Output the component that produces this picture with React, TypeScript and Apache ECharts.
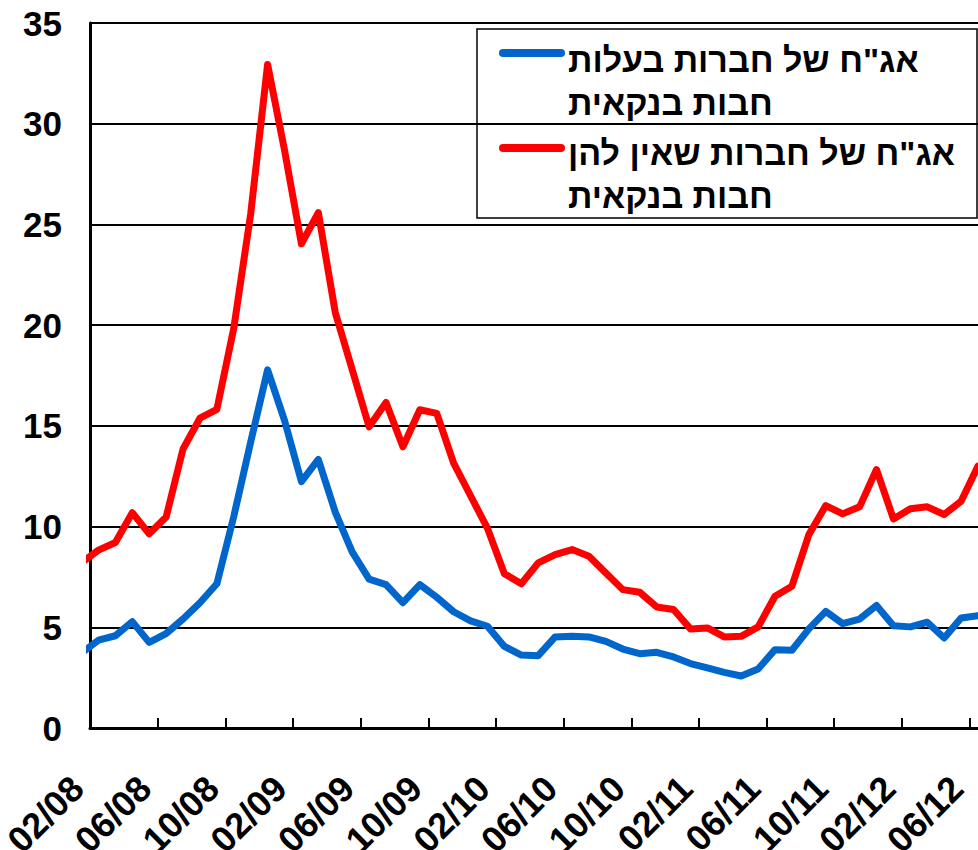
import React, { useEffect, useRef } from "react";
import * as echarts from "echarts";

// Month ticks (every 4 months, starting 02/08)
const tickLabels = ["02/08", "06/08", "10/08", "02/09", "06/09", "10/09", "02/10", "06/10", "10/10", "02/11", "06/11", "10/11", "02/12", "06/12"];

// Monthly points, 01/08 .. 06/12 (each drawn at mid-month)
const pointMonths = [
  "01/08", "02/08", "03/08", "04/08", "05/08", "06/08", "07/08", "08/08", "09/08", "10/08", "11/08", "12/08",
  "01/09", "02/09", "03/09", "04/09", "05/09", "06/09", "07/09", "08/09", "09/09", "10/09", "11/09", "12/09",
  "01/10", "02/10", "03/10", "04/10", "05/10", "06/10", "07/10", "08/10", "09/10", "10/10", "11/10", "12/10",
  "01/11", "02/11", "03/11", "04/11", "05/11", "06/11", "07/11", "08/11", "09/11", "10/11", "11/11", "12/11",
  "01/12", "02/12", "03/12", "04/12", "05/12", "06/12",
];

const bankDebt = [
  3.72, 4.36, 4.58, 5.28, 4.25, 4.69, 5.41, 6.22, 7.16, 10.5, 14.2, 17.78,
  15.27, 12.23, 13.33, 10.72, 8.74, 7.39, 7.12, 6.22, 7.12, 6.49, 5.77, 5.32,
  5.05, 4.05, 3.62, 3.59, 4.52, 4.55, 4.52, 4.3, 3.92, 3.69, 3.76, 3.53,
  3.2, 2.98, 2.76, 2.58, 2.93, 3.89, 3.86, 4.92, 5.79, 5.18, 5.41, 6.08,
  5.08, 5.02, 5.25, 4.47, 5.46, 5.58,
];

const nonBankDebt = [
  8.2, 8.83, 9.21, 10.69, 9.64, 10.47, 13.85, 15.38, 15.82, 19.85, 25.52, 32.94,
  28.69, 24.04, 25.59, 20.63, 17.8, 14.95, 16.16, 13.96, 15.8, 15.62, 13.15, 11.53,
  9.91, 7.66, 7.16, 8.2, 8.61, 8.86, 8.53, 7.7, 6.87, 6.74, 6.01, 5.88,
  4.92, 4.97, 4.52, 4.55, 5.02, 6.54, 7.04, 9.6, 11.04, 10.63, 10.98, 12.83,
  10.38, 10.88, 10.98, 10.6, 11.26, 13.0,
];

const seriesNames = ['אג"ח של חברות בעלות\nחבות בנקאית', 'אג"ח של חברות שאין להן\nחבות בנקאית'];
const seriesColors = ["#0066CC", "#FF0000"];

const FONT = '"Liberation Sans", Arial, sans-serif';

export default function App() {
  const ref = useRef<HTMLDivElement>(null);
  useEffect(() => {
    if (!ref.current) return;
    const chart = echarts.init(ref.current, null, { renderer: "svg" });
    const toXY = (vals: number[]) => vals.map((v, i) => [i - 0.5, v]);
    const tickValues = tickLabels.map((_, k) => k * 4);
    chart.setOption({
      animation: false,
      backgroundColor: "#fff",
      grid: { left: 90, right: 0, top: 23, bottom: 122, containLabel: false, outerBoundsMode: "none" },
      xAxis: {
        type: "value",
        min: 0,
        max: 52.5,
        axisLine: { show: true, lineStyle: { color: "#000", width: 3 } },
        axisTick: { show: true, inside: true, length: 10, lineStyle: { color: "#000", width: 2 }, customValues: tickValues },
        axisLabel: {
          customValues: tickValues,
          rotate: 45,
          margin: 67,
          align: "right",
          verticalAlign: "bottom",
          color: "#000",
          fontFamily: FONT,
          fontWeight: "bold",
          fontSize: 36,
          formatter: (v: number) => tickLabels[Math.round(v / 4)] ?? "",
        },
        splitLine: { show: false },
      },
      yAxis: {
        type: "value",
        min: 0,
        max: 35,
        interval: 5,
        axisLine: { show: true, lineStyle: { color: "#000", width: 3 } },
        axisTick: { show: false },
        axisLabel: { margin: 28, color: "#000", fontFamily: FONT, fontWeight: "bold", fontSize: 35 },
        splitLine: { show: true, lineStyle: { color: "#000", width: 2 } },
      },
      series: [
        {
          name: seriesNames[1],
          type: "line",
          data: toXY(nonBankDebt),
          showSymbol: false,
          symbol: "none",
          lineStyle: { color: seriesColors[1], width: 7, join: "round", cap: "round" },
          z: 3,
        },
        {
          name: seriesNames[0],
          type: "line",
          data: toXY(bankDebt),
          showSymbol: false,
          symbol: "none",
          lineStyle: { color: seriesColors[0], width: 7, join: "round", cap: "round" },
          z: 3,
        },
      ],
      graphic: [
        {
          type: "group",
          z: 100,
          children: [
            { type: "rect", shape: { x: 477, y: 29, width: 500, height: 189 }, style: { fill: "#fff", stroke: "#000", lineWidth: 1.5 } },
            { type: "line", shape: { x1: 503, y1: 53, x2: 561, y2: 53 }, style: { stroke: seriesColors[0], lineWidth: 8, lineCap: "round" } },
            { type: "line", shape: { x1: 503, y1: 148, x2: 561, y2: 148 }, style: { stroke: seriesColors[1], lineWidth: 8, lineCap: "round" } },
            {
              type: "text",
              x: 568,
              y: 38,
              style: { text: seriesNames[0], fill: "#000", font: `bold 34px ${FONT}`, lineHeight: 43, textAlign: "left", textVerticalAlign: "top" },
            },
            {
              type: "text",
              x: 568,
              y: 131,
              style: { text: seriesNames[1], fill: "#000", font: `bold 34px ${FONT}`, lineHeight: 43, textAlign: "left", textVerticalAlign: "top" },
            },
          ],
        },
      ],
    });
    return () => chart.dispose();
  }, []);
  return <div ref={ref} style={{ position: "fixed", left: 0, top: 0, width: 978, height: 850 }} />;
}
